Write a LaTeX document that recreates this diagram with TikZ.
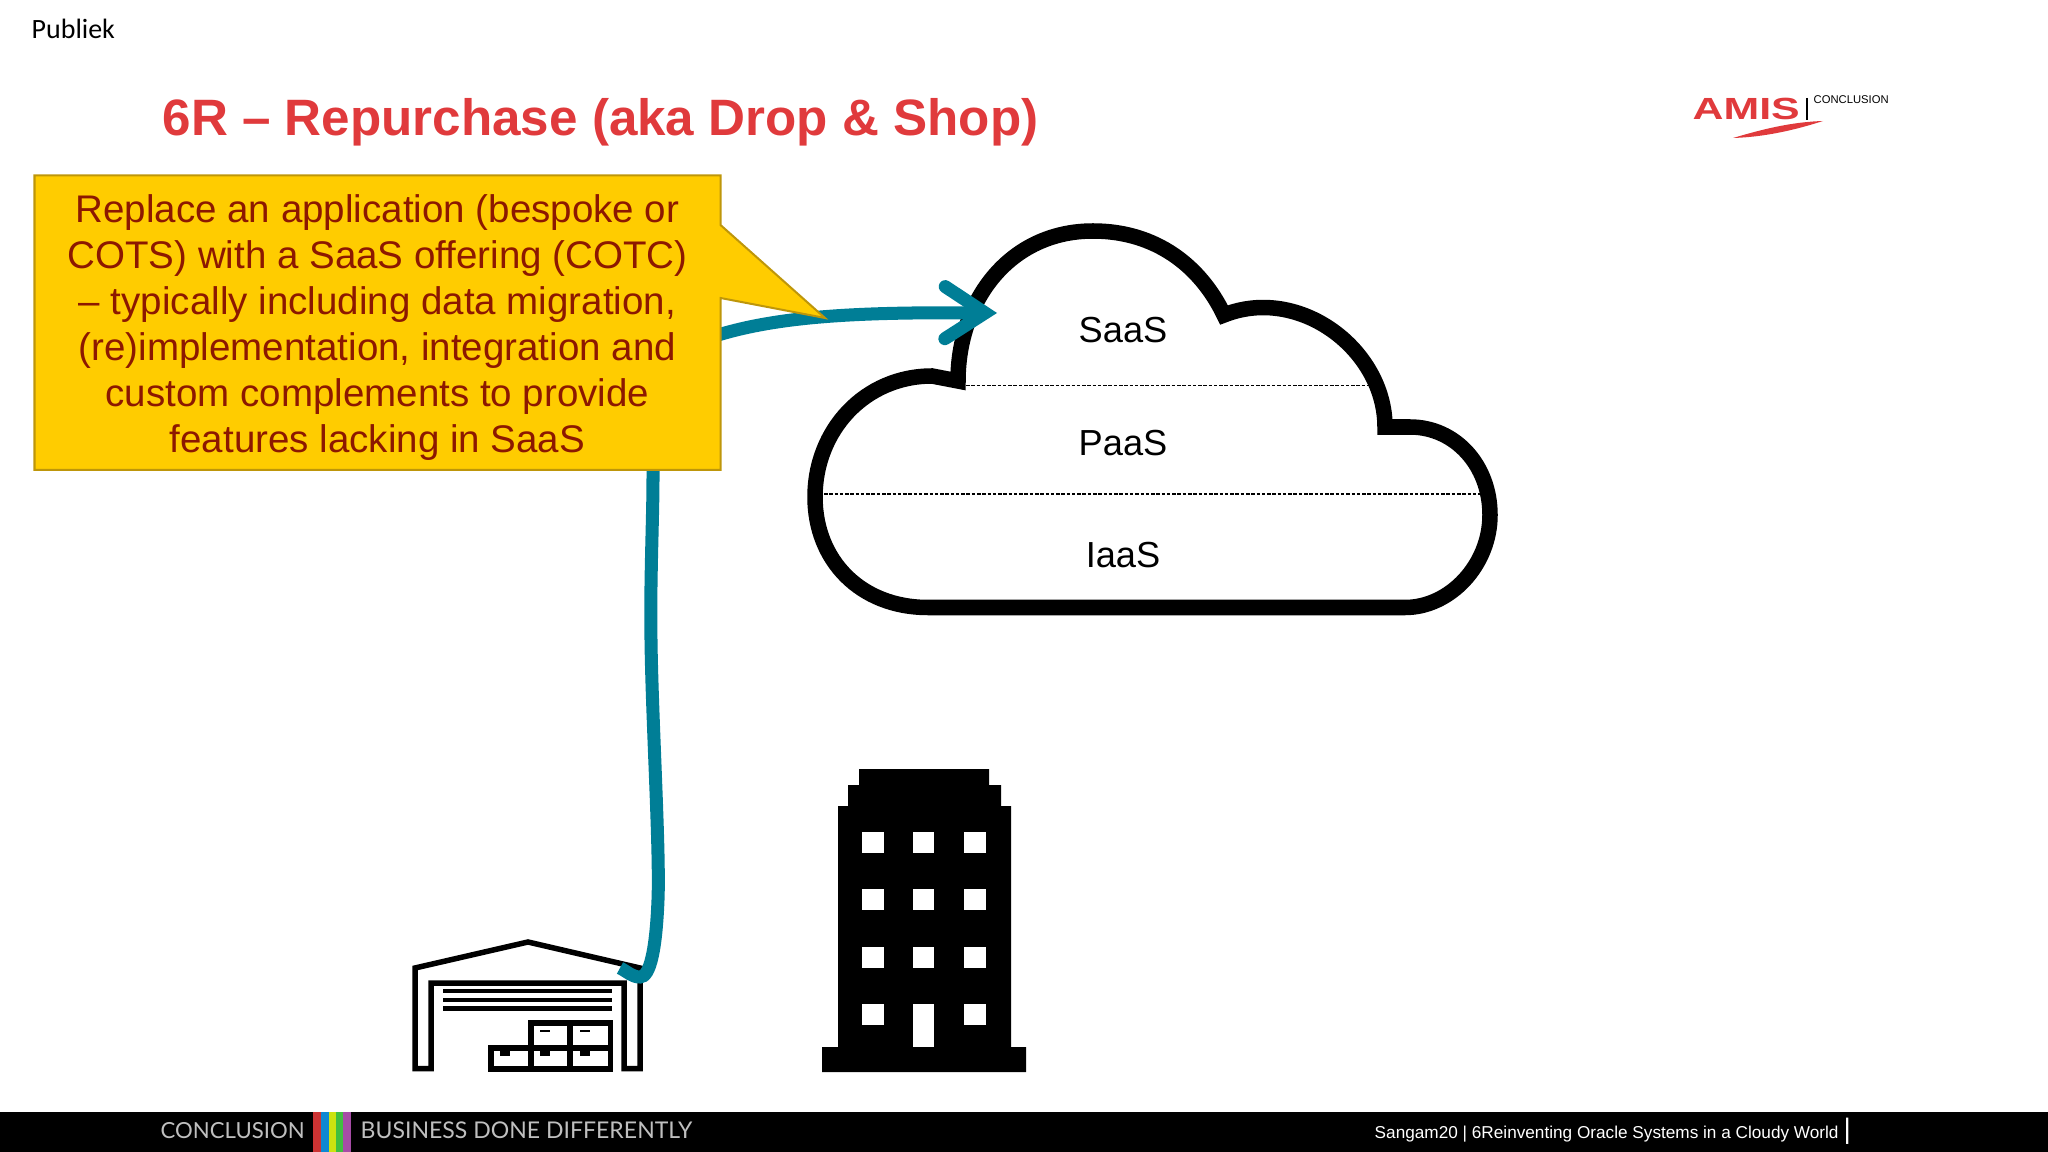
\documentclass[tikz,border=0pt]{standalone}
\usepackage{fontspec}
\usepackage{xcolor}
\usepackage{tikz}
\usetikzlibrary{positioning,arrows.meta}
\setmainfont{Liberation Sans}
\newfontfamily\publiekfont{Carlito}
\newfontfamily\footerfont{Lato}
\definecolor{amisred}{RGB}{224,58,60}
\definecolor{calloutgold}{RGB}{255,204,0}
\definecolor{calloutedge}{RGB}{190,150,10}
\definecolor{callouttext}{RGB}{140,24,0}
\definecolor{tealline}{RGB}{0,126,150}

\begin{document}
\begin{tikzpicture}[
    x=0.01cm, y=-0.01cm,
    every node/.style={inner sep=0pt},
    cloudlabel/.style={font=\fontsize{10.3}{12}\selectfont},
    layerline/.style={line width=0.35pt, dash pattern=on 1pt off 0.5pt},
    solidicon/.style={fill=black, draw=none},
    iconline/.style={draw=black, line width=0.055cm, fill=white},
    iconwindow/.style={fill=white, draw=none}
]
\useasboundingbox (0,0) rectangle (2048,1152);

\node[anchor=base west, font=\publiekfont\fontsize{7.95}{9}\selectfont] (publiek) at (31,39) {Publiek};
\node[anchor=base west, font=\bfseries\fontsize{14.55}{16}\selectfont, text=amisred] (title) at (162,136) {6R -- Repurchase (aka Drop \& Shop)};

% logo
\node[anchor=base west, font=\bfseries\fontsize{8.7}{10}\selectfont, text=amisred] (logo) at (1692,120) {\scalebox{1.4}[1]{AMIS}};
\node[anchor=base west, font=\fontsize{3.2}{4}\selectfont] (logosub) at (1813,104) {CONCLUSION};
\draw[line width=0.015cm] (1807,98) -- (1807,120);
\fill[amisred] (1823,121) .. controls (1790,122) and (1760,130) .. (1733,138) .. controls (1765,137) and (1795,130) .. (1823,121) -- cycle;

% cloud
\draw[line width=0.155cm, line join=miter, fill=white]
    (958,381) .. controls (958,300) and (1010,231) .. (1093,231)
    .. controls (1155,231) and (1200,265) .. (1224,315)
    .. controls (1300,285) and (1385,350) .. (1385,427)
    -- (1410,427) .. controls (1455,427) and (1490,465) .. (1490,515)
    .. controls (1490,565) and (1450,607.5) .. (1405,607.5)
    -- (928,607.5) .. controls (860,607.5) and (815,560) .. (815,497)
    .. controls (815,430) and (865,376) .. (932,376)
    -- cycle;
\draw[layerline] (966,385.7) -- (1371,385.7);
\draw[layerline] (824,494) -- (1480,494);

\node[cloudlabel, anchor=base] (saas) at (1123,343) {SaaS};
\node[cloudlabel, below=0.85cm of saas] (paas) {PaaS};
\node[cloudlabel, below=0.85cm of paas] (iaas) {IaaS};

% warehouse
\draw[iconline] (415,1068.5) -- (415,968) -- (528,942) -- (640,968) -- (640,1068.5) -- (624,1068.5) -- (624,983) -- (431,983) -- (431,1068.5) -- cycle;
\foreach \ypos in {991,1000,1008.5}
    \draw[line width=0.045cm] (443,\ypos) -- (612,\ypos);
\draw[iconline] (491,1048) rectangle (531,1069);
\draw[iconline] (531,1048) rectangle (570,1069);
\draw[iconline] (570,1048) rectangle (610.5,1069);
\draw[iconline] (531,1023) rectangle (570,1048);
\draw[iconline] (570,1023) rectangle (610.5,1048);
\foreach \xpos in {540,580}
    \fill (\xpos,1029.8) rectangle ++(10,2);
\foreach \xpos in {500,540,580}
    \fill (\xpos,1051) rectangle ++(9.5,5);

% building
\fill[solidicon] (859,769) -- (989,769) -- (989,785) -- (1001,785) -- (1001,806) -- (1011,806) -- (1011,1047) -- (1026,1047) -- (1026,1072) -- (822,1072) -- (822,1047) -- (838,1047) -- (838,806) -- (848,806) -- (848,785) -- (859,785) -- cycle;
\foreach \ypos in {832,889,947}
    \foreach \xpos in {862,912.5,964}
        \fill[iconwindow] (\xpos,\ypos) rectangle ++(21.5,21);
\fill[iconwindow] (862,1004) rectangle ++(21.5,21);
\fill[iconwindow] (964,1004) rectangle ++(21.5,21);
\fill[iconwindow] (912.5,1004) rectangle ++(21.5,43);

% connector
\coordinate (hookend) at (620,968);
\coordinate (arrowtip) at (997,313);
\draw[tealline, line width=0.13cm, -{Straight Barb[length=0.4cm, width=0.52cm, line cap=round, line join=miter]}]
    (hookend) .. controls (628,972) and (632,977) .. (640,977)
    .. controls (650,977) and (656,950) .. (658,900)
    .. controls (660,850) and (652,720) .. (651,640)
    .. controls (650,580) and (653,520) .. (653,477)
    -- (653,400) .. controls (655,375) and (670,355) .. (690,345)
    .. controls (760,316) and (850,312) .. (arrowtip);

% callout
\draw[line width=0.02cm, draw=calloutedge, fill=calloutgold]
    (34.5,175.5) -- (720.5,175.5) -- (720.5,225) -- (825,318) -- (720.5,298) -- (720.5,470) -- (34.5,470) -- cycle;
\node[align=center, text=callouttext, font=\fontsize{10.95}{13.1}\selectfont] (calloutbox) at (377.5,327.5) {
    Replace an application (bespoke or\\
    COTS) with a SaaS offering (COTC)\\
    -- typically including data migration,\\
    (re)implementation, integration and\\
    custom complements to provide\\
    features lacking in SaaS
};

% footer
\fill[black] (0,1112) rectangle (2048,1152);
\foreach \xpos/\stripe in {313/red!60!gray, 321/cyan!70!blue, 329/yellow!80!green, 336/green!50!gray, 343/violet!70!white}
    \fill[\stripe] (\xpos,1112) rectangle ++(8,40);
\node[anchor=base west, font=\footerfont\fontsize{6.3}{7}\selectfont, text=black!25] (conclusion) at (160,1138) {CONCLUSION};
\node[anchor=base west, font=\footerfont\fontsize{6.55}{7}\selectfont, text=black!25] (slogan) at (360,1138) {BUSINESS DONE DIFFERENTLY};
\node[anchor=base west, font=\fontsize{4.89}{6}\selectfont, text=white] (sangam) at (1374,1138) {Sangam20 | 6Reinventing Oracle Systems in a Cloudy World};
\node[anchor=base west, font=\fontsize{8}{9}\selectfont, text=white] (bar) at (1843,1138) {|};

\end{tikzpicture}
\end{document}
